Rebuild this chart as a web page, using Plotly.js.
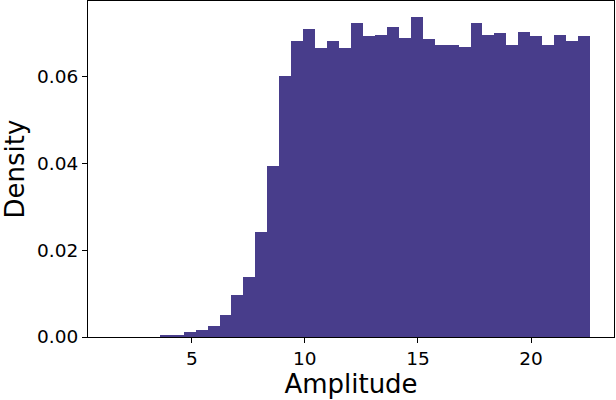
<!DOCTYPE html>
<html>
<head>
<meta charset="utf-8">
<script src="https://cdn.plot.ly/plotly-3.0.1.min.js"></script>
<style>html,body{margin:0;padding:0;background:#fff;}#chart{width:616px;height:400px;}</style>
</head>
<body>
<div id="chart"></div>
<script>
// Histogram bins (uniform width)
const binStart = 1.47;
const binWidth = 0.5285;
const density = [
  0, 0, 0, 0, 0.0004, 0.0005, 0.00115, 0.0016, 0.0025, 0.0051,
  0.0097, 0.0138, 0.0242, 0.0394, 0.0601, 0.0683, 0.0711, 0.0667, 0.0683, 0.0667,
  0.0724, 0.0695, 0.0697, 0.0715, 0.0690, 0.0738, 0.0688, 0.0674, 0.0674, 0.0669,
  0.0724, 0.0697, 0.0701, 0.0674, 0.0704, 0.0695, 0.0674, 0.0697, 0.0683, 0.0695
];
const xTicks = [5, 10, 15, 20];
const yTicks = [0, 0.02, 0.04, 0.06];
const yTickLabels = ["0.00", "0.02", "0.04", "0.06"];

const centers = density.map((_, i) => binStart + binWidth * (i + 0.5));

const font = "DejaVu Sans, sans-serif";
const trace = {
  type: "bar",
  x: centers,
  y: density,
  width: density.map(() => binWidth),
  marker: {color: "#483D8B", line: {width: 0}},
  hoverinfo: "skip"
};
const axisCommon = {
  showline: true, mirror: true, linecolor: "#000", linewidth: 1,
  ticks: "outside", ticklen: 5, tickwidth: 1, tickcolor: "#000",
  showgrid: false, zeroline: false,
  tickfont: {family: font, size: 18.5, color: "#000"}
};
const layout = {
  width: 616, height: 400,
  margin: {l: 88, r: 2, t: 1, b: 63},
  paper_bgcolor: "#fff", plot_bgcolor: "#fff",
  showlegend: false,
  bargap: 0,
  xaxis: Object.assign({}, axisCommon, {
    range: [0.41, 23.67],
    tickvals: xTicks,
    ticktext: xTicks.map(String),
    title: {text: "Amplitude", font: {family: font, size: 26, color: "#000"}, standoff: 3}
  }),
  yaxis: Object.assign({}, axisCommon, {
    range: [0, 0.0775],
    tickvals: yTicks,
    ticktext: yTickLabels,
    title: {text: "Density", font: {family: font, size: 26, color: "#000"}, standoff: 6}
  })
};
Plotly.newPlot("chart", [trace], layout, {displayModeBar: false, staticPlot: true});
</script>
</body>
</html>
